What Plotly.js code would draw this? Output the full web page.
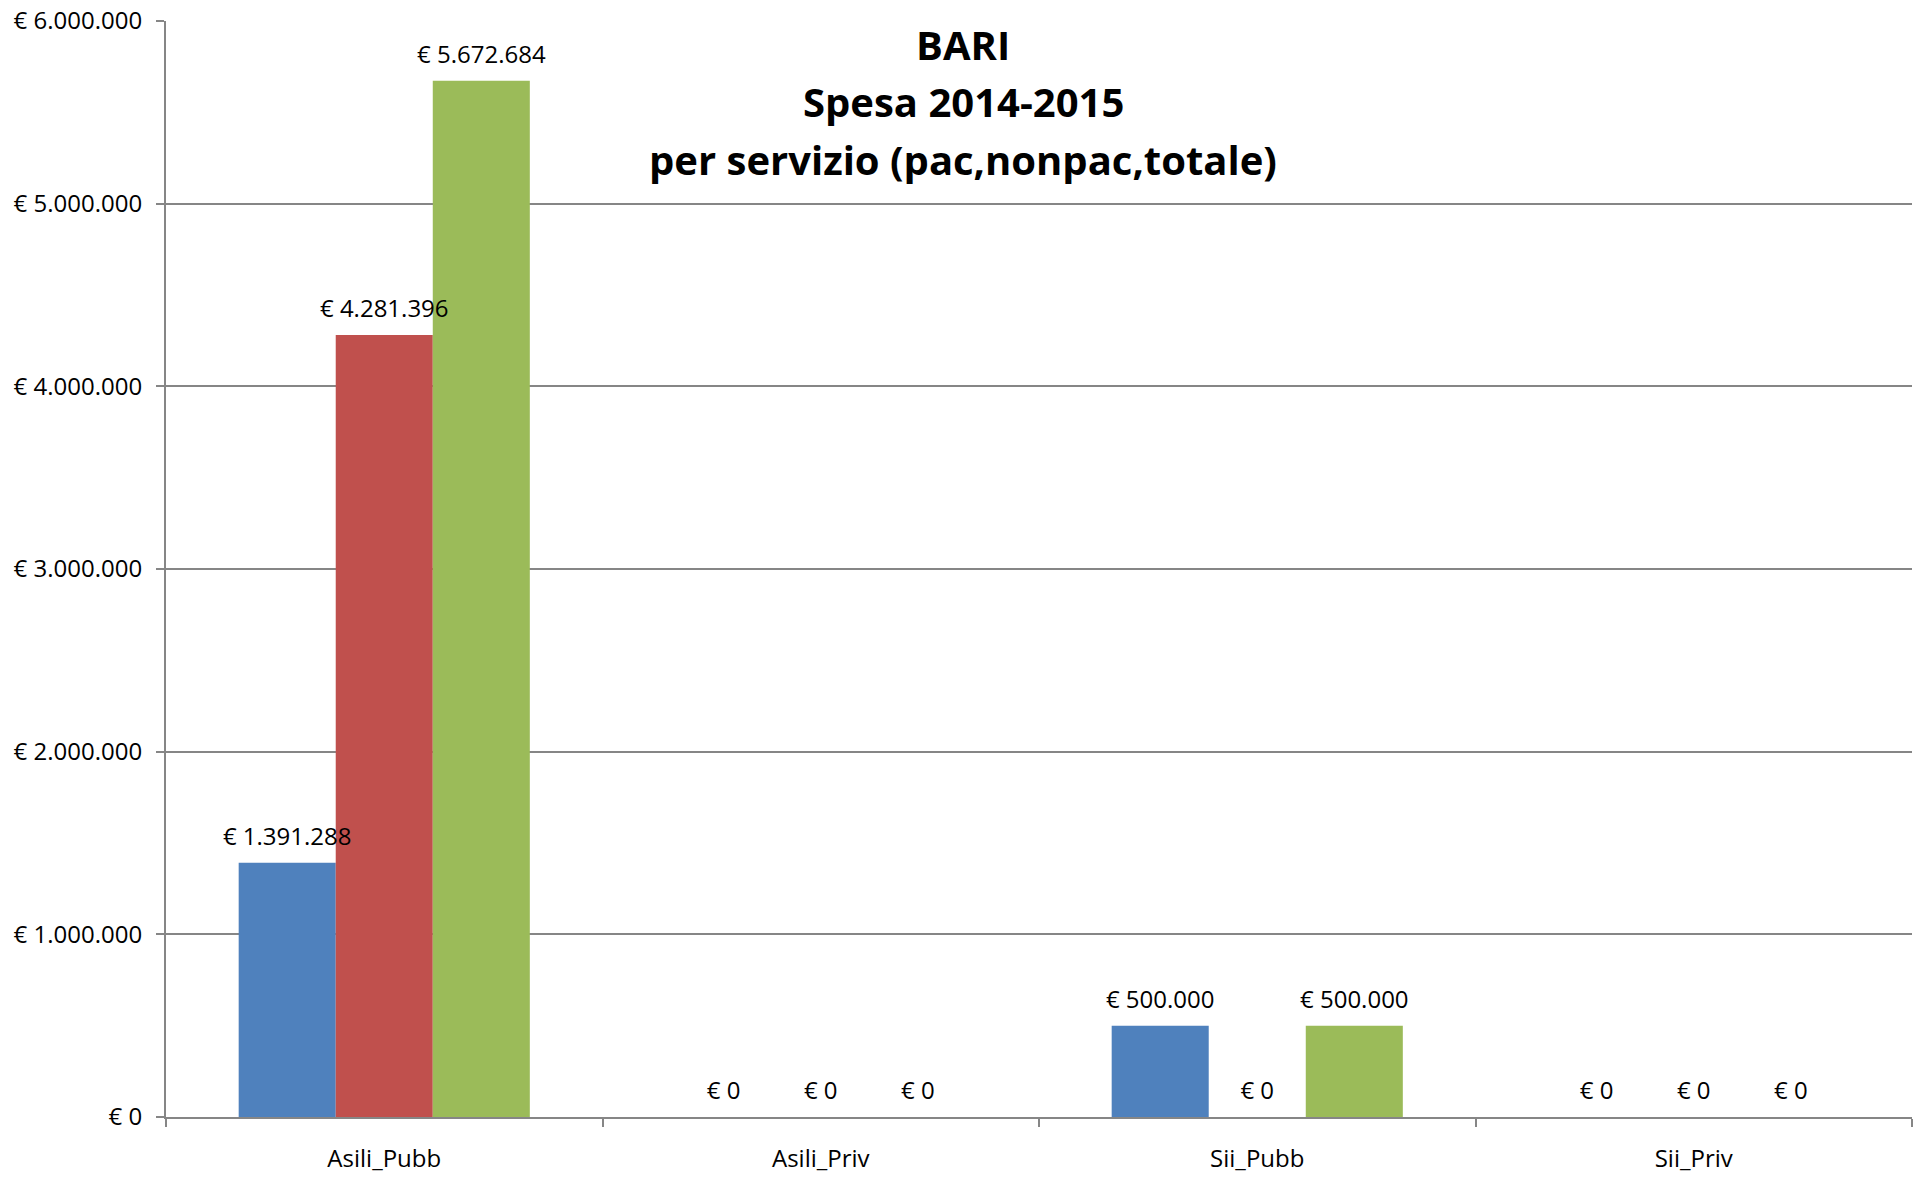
<!DOCTYPE html>
<html>
<head>
<meta charset="utf-8">
<script src="https://cdn.plot.ly/plotly-3.0.1.min.js"></script>
<style>html,body{margin:0;padding:0;background:#fff;}#chart{width:1914px;height:1177px;}</style>
</head>
<body>
<div id="chart"></div>
<script>
const categories = ["Asili_Pubb", "Asili_Priv", "Sii_Pubb", "Sii_Priv"];
const seriesNames = ["pac", "nonpac", "totale"];
const pac = [1391288, 0, 500000, 0];
const nonpac = [4281396, 0, 0, 0];
const totale = [5672684, 0, 500000, 0];
const titleLines = ["BARI", "Spesa 2014-2015", "per servizio (pac,nonpac,totale)"];
const colors = ["#4F81BD", "#C0504D", "#9BBB59"];

const font = "Open Sans, Noto Sans, sans-serif";
const values = [pac, nonpac, totale];
// the bars themselves
const barTraces = values.map((v, i) => ({
  type: "bar",
  name: seriesNames[i],
  x: categories,
  y: v,
  offsetgroup: "g" + i,
  marker: {color: colors[i]},
  hoverinfo: "x+y"
}));
// value labels drawn on top of every bar, aligned with the bar slots
const labelTraces = values.map((v, i) => ({
  type: "scatter",
  mode: "markers+text",
  name: seriesNames[i] + " label",
  x: categories,
  y: v,
  offsetgroup: "g" + i,
  texttemplate: "€ %{y:,d}",
  textposition: "top center",
  marker: {size: 17, color: "rgba(0,0,0,0)"},
  cliponaxis: false,
  textfont: {family: font, size: 24, color: "#000"},
  hoverinfo: "skip"
}));

const titleY = [44, 101, 160];
const annotations = titleLines.map((t, i) => ({
  text: "<b>" + t + "</b>",
  xref: "paper", yref: "paper",
  x: (963 - 166) / (1912 - 166),
  y: 1 - (titleY[i] - 21) / (1117 - 21),
  xanchor: "center", yanchor: "middle",
  showarrow: false,
  font: {family: font, size: 40, color: "#000"}
}));

const layout = {
  width: 1914, height: 1177,
  margin: {l: 166, r: 2, t: 21, b: 60, pad: 0},
  paper_bgcolor: "#fff", plot_bgcolor: "#fff",
  separators: ",.",
  showlegend: false,
  barmode: "group",
  bargap: 0.333,
  bargroupgap: 0,
  scattermode: "group",
  font: {family: font, size: 24, color: "#000"},
  annotations: annotations,
  xaxis: {
    type: "category",
    showline: true, linecolor: "#868686", linewidth: 2,
    ticks: "outside", tickson: "boundaries", ticklen: 8, tickcolor: "#868686", tickwidth: 2,
    ticklabelstandoff: 19,
    showgrid: false, zeroline: false,
    tickfont: {family: font, size: 24, color: "#000"}
  },
  yaxis: {
    range: [0, 6000000],
    dtick: 1000000, tick0: 0,
    tickformat: ",d", tickprefix: "€ ",
    showline: true, linecolor: "#868686", linewidth: 2,
    ticks: "outside", ticklen: 8, tickcolor: "#868686", tickwidth: 2,
    ticklabelstandoff: 9,
    showgrid: true, gridcolor: "#868686", gridwidth: 2,
    zeroline: false,
    tickfont: {family: font, size: 24, color: "#000"}
  }
};

Plotly.newPlot("chart", barTraces.concat(labelTraces), layout, {displayModeBar: false, staticPlot: true});
</script>
</body>
</html>
